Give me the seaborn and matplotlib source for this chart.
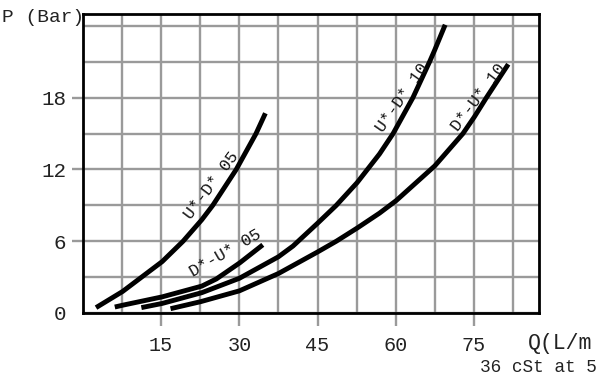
import numpy as np
import pandas as pd
import matplotlib
matplotlib.use("Agg")
import matplotlib.pyplot as plt
import seaborn as sns

# ---- data ----
q_ud05 = [2.5, 7.6, 15.2, 19.2, 22.8, 24.9, 29.4, 33.2, 35.0]
p_ud05 = [0.45, 1.8, 4.3, 6.0, 7.8, 9.0, 12.0, 15.0, 16.7]

q_du05 = [6.1, 7.6, 15.2, 22.8, 25.6, 30.1, 34.5]
p_du05 = [0.5, 0.65, 1.35, 2.25, 2.85, 4.2, 5.7]

q_ud10 = [11.2, 15.2, 22.8, 30, 37.5, 40.3, 45, 48.6, 52.6, 56.9, 59.5, 63.3, 66.5,
          67.5, 69.5]
p_ud10 = [0.45, 0.8, 1.7, 2.9, 4.7, 5.6, 7.5, 9.0, 10.9, 13.3, 15.0, 18.0, 21.0,
          22.0, 24.1]

q_du10 = [16.8, 22.6, 30, 37.5, 45, 48.6, 52.6, 56.9, 60.1, 67.5, 72.9, 75.1, 77.4,
          81.6]
p_du10 = [0.36, 0.95, 1.85, 3.3, 5.1, 6.0, 7.1, 8.35, 9.4, 12.3, 15.0, 16.4, 18.0,
          20.8]

curve_names = ["U*-D* 05", "D*-U* 05", "U*-D* 10", "D*-U* 10"]
x_ticks = [15, 30, 45, 60, 75]
y_ticks = [0, 6, 12, 18]
x_label = "Q(L/m"
y_label = "P (Bar)"
note = "36 cSt at 5"

frames = []
for name, q, p in zip(curve_names, [q_ud05, q_du05, q_ud10, q_du10],
                      [p_ud05, p_du05, p_ud10, p_du10]):
    frames.append(pd.DataFrame({"Q": q, "P": p, "curve": name}))
df = pd.concat(frames, ignore_index=True)

sns.set_style("white")
plt.rcParams["font.family"] = ["Liberation Mono", "DejaVu Sans Mono"]

fig = plt.figure(figsize=(6, 3.77), dpi=100)
ax = fig.add_axes([83 / 600, 1 - 313 / 377, (539 - 83) / 600, (313 - 14) / 377])

sns.lineplot(data=df, x="Q", y="P", hue="curve", units="curve", estimator=None,
             palette=["black"] * 4, legend=False, linewidth=3.5, ax=ax,
             solid_capstyle="butt", solid_joinstyle="round", zorder=3)

ax.set_xlim(0, 87.5)
ax.set_ylim(0, 25)

grid_c = "#9a9a9a"
ax.set_xticks(x_ticks)
ax.set_xticks([7.5, 22.5, 37.5, 52.5, 67.5, 82.5], minor=True)
ax.set_yticks(y_ticks)
ax.set_yticks([3, 9, 15, 21, 24], minor=True)
ax.set_xticklabels([str(t) for t in x_ticks])
ax.set_yticklabels([str(t) for t in y_ticks])
ax.grid(True, which="both", color=grid_c, linewidth=1.7)
ax.set_axisbelow(True)
ax.tick_params(axis="x", which="major", length=9.5, width=1.7, color=grid_c,
               pad=7, labelsize=14.5, labelcolor="#222222", bottom=True)
ax.tick_params(axis="y", which="major", length=8, width=1.7, color=grid_c,
               pad=4, labelsize=15, labelcolor="#222222", left=True)
ax.tick_params(which="minor", length=0)
ax.yaxis.get_major_ticks()[0].tick1line.set_visible(False)
ax.set_xlabel("")
ax.set_ylabel("")

for s in ax.spines.values():
    s.set_visible(True)
    s.set_color("black")
    s.set_linewidth(2.0)

# curve labels
labels = [("U*-D* 05", 24.6, 10.7, 53), ("D*-U* 05", 27.3, 5.0, 30),
          ("U*-D* 10", 61.3, 18.0, 55), ("D*-U* 10", 75.8, 18.0, 53)]
for txt, x, y, r in labels:
    ax.text(x, y, txt, rotation=r, rotation_mode="anchor", ha="center",
            va="center", fontsize=12, color="#111111", zorder=4)

fig.text(2 / 600, 1 - 17 / 377, y_label, ha="left", va="center",
         fontsize=14, color="#222222")
fig.text(528 / 600, 1 - 343 / 377, x_label, ha="left", va="center",
         fontsize=15.5, color="#222222")
fig.text(480 / 600, 1 - 368 / 377, note, ha="left", va="center",
         fontsize=12.8, color="#222222")

fig.savefig("out.png", dpi=100)
